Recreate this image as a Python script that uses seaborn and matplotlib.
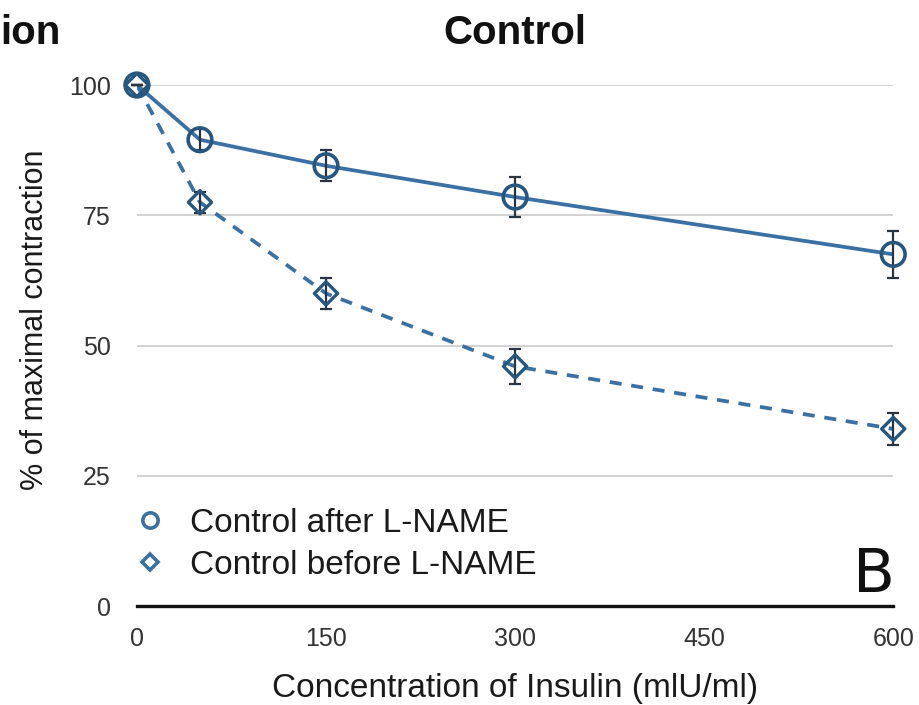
import matplotlib
matplotlib.use("Agg")
import matplotlib.pyplot as plt
import seaborn as sns
import pandas as pd
from matplotlib.lines import Line2D

# Data
insulin = [0, 50, 150, 300, 600]
after_lname = [100, 89.5, 84.5, 78.5, 67.5]
after_err = [0, 2.0, 3.0, 3.8, 4.5]
before_lname = [100, 77.5, 60, 46, 34]
before_err = [0, 2.0, 3.0, 3.3, 3.0]
series_names = ["Control after L-NAME", "Control before L-NAME"]
yticks = [0, 25, 50, 75, 100]
xticks = [0, 150, 300, 450, 600]

df = pd.DataFrame({
    "insulin": insulin * 2,
    "value": after_lname + before_lname,
    "series": [series_names[0]] * len(insulin) + [series_names[1]] * len(insulin),
})

sns.set_theme(style="white")
plt.rcParams["font.family"] = ["Liberation Sans", "DejaVu Sans"]

blue = "#3a70a3"
edge = "#27577f"
txt = "#1a1a1a"

fig = plt.figure(figsize=(9.19, 7.05), dpi=100)
ax = fig.add_axes([0.149, 0.1404, 0.823, 0.739])

for y in [25, 50, 75, 100]:
    ax.axhline(y, color="#cfcfcf", lw=1.3, zorder=0)

sns.lineplot(data=df[df.series == series_names[0]], x="insulin", y="value",
             ax=ax, color=blue, lw=2.7, legend=False, zorder=2)
sns.lineplot(data=df[df.series == series_names[1]], x="insulin", y="value",
             ax=ax, color=blue, lw=2.7, legend=False, zorder=2)
ax.lines[-1].set_dashes([3.2, 2.6])

ax.errorbar(insulin, after_lname, yerr=after_err, fmt="none", ecolor="#2a3440",
            elinewidth=1.6, capsize=4, capthick=1.6, zorder=3, clip_on=False)
ax.errorbar(insulin, before_lname, yerr=before_err, fmt="none", ecolor="#2a3440",
            elinewidth=1.6, capsize=4, capthick=1.6, zorder=3, clip_on=False)

ax.scatter(insulin, after_lname, marker="o", s=290, facecolors="none",
           edgecolors=edge, linewidths=2.6, zorder=4, clip_on=False)
ax.scatter(insulin, before_lname, marker="D", s=140, facecolors="none",
           edgecolors=edge, linewidths=2.4, zorder=4, clip_on=False)

ax.set_xlim(0, 600)
ax.set_ylim(0, 100)
ax.set_xticks(xticks)
ax.set_yticks(yticks)
ax.tick_params(axis="both", labelsize=18, length=0, colors="#333333")
ax.tick_params(axis="x", pad=15)
ax.tick_params(axis="y", pad=19)
for s in ["left", "right", "top"]:
    ax.spines[s].set_visible(False)
ax.spines["bottom"].set_color("#111111")
ax.spines["bottom"].set_linewidth(2.4)
ax.spines["bottom"].set_zorder(1)

ax.set_xlabel("Concentration of Insulin (mlU/ml)", fontsize=24, color=txt, va="center")
ax.xaxis.set_label_coords(0.5, -0.158)
ax.set_ylabel("% of maximal contraction", fontsize=22, color=txt, va="center")
ax.yaxis.set_label_coords(-0.135, 0.549)

fig.text(0.560, 0.953, "Control", fontsize=29, fontweight="bold", ha="center",
         va="center", color="#111111")
fig.text(0.0, 0.953, "ion", fontsize=29, fontweight="bold", ha="left", va="center",
         color="#111111")

handles = [
    Line2D([], [], marker="o", ls="none", markersize=11, markerfacecolor="white",
           markeredgecolor=blue, markeredgewidth=2.6),
    Line2D([], [], marker="D", ls="none", markersize=8.5, markerfacecolor="white",
           markeredgecolor=blue, markeredgewidth=2.6),
]
leg = ax.legend(handles, series_names, loc="center left", bbox_to_anchor=(-0.005, 0.119),
                frameon=False, fontsize=24, handletextpad=0.7, labelspacing=0.33,
                handlelength=1.0, borderpad=0, borderaxespad=0)
for t in leg.get_texts():
    t.set_color(txt)

fig.text(0.974, 0.160, "B", fontsize=44, ha="right", va="baseline",
         family=["DejaVu Sans"], color="#111111")

fig.savefig("out.png", dpi=100)
